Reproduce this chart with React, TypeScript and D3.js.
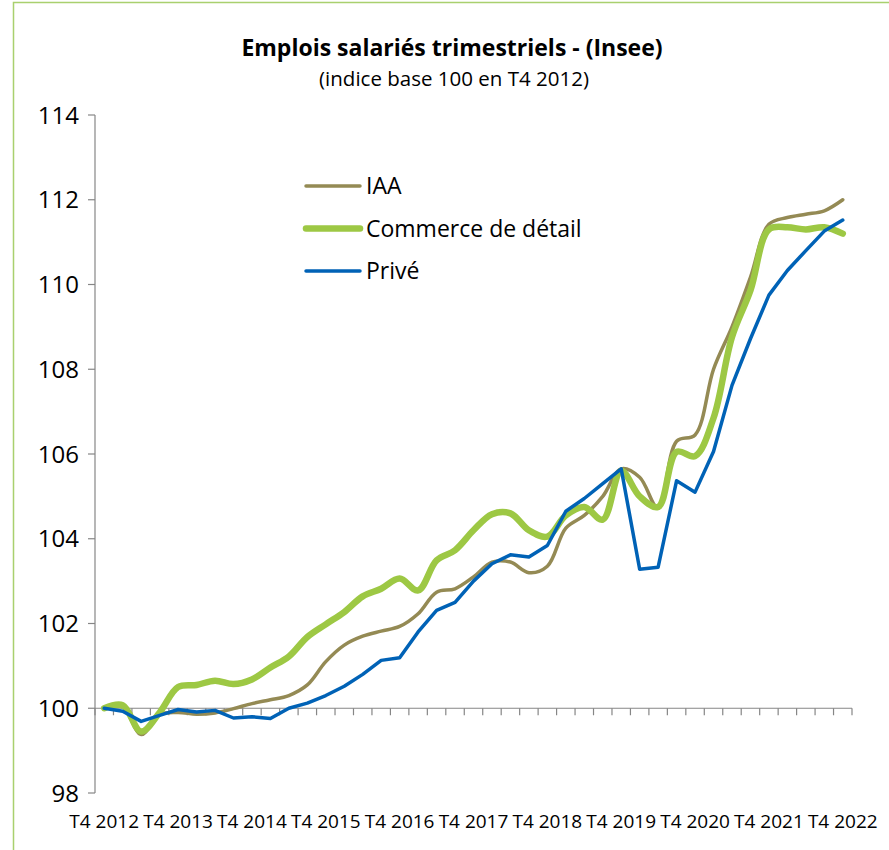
import React from "react";
import * as d3 from "d3";

const years = ["2012","2013","2014","2015","2016","2017","2018","2019","2020","2021","2022"];
const categories: string[] = [];
years.forEach((y, yi) => {
  if (yi === 0) categories.push("T4 " + y);
  else ["T1", "T2", "T3", "T4"].forEach((q) => categories.push(q + " " + y));
});

const iaa = [
  100, 100.03, 99.38, 99.85, 99.9, 99.86, 99.89, 99.99, 100.11, 100.2,
  100.3, 100.55, 101.1, 101.49, 101.7, 101.82, 101.93, 102.23, 102.74, 102.82,
  103.1, 103.45, 103.45, 103.2, 103.35, 104.25, 104.55, 105.0, 105.65, 105.45,
  104.72, 106.3, 106.45, 108.0, 109.0, 110.17, 111.42, 111.58, 111.66, 111.74,
  112.0,
];
const commerce = [
  100, 100.07, 99.45, 99.9, 100.5, 100.55, 100.65, 100.57, 100.68, 100.96,
  101.22, 101.68, 101.98, 102.27, 102.64, 102.82, 103.06, 102.78, 103.49, 103.73,
  104.2, 104.58, 104.6, 104.2, 104.05, 104.55, 104.75, 104.45, 105.6, 105.0,
  104.75, 106.05, 105.95, 106.85, 108.76, 109.86, 111.3, 111.35, 111.3, 111.35,
  111.2,
];
const prive = [
  100, 99.93, 99.69, 99.83, 99.97, 99.91, 99.95, 99.77, 99.8, 99.76,
  100.0, 100.12, 100.3, 100.52, 100.8, 101.13, 101.19, 101.8, 102.31, 102.5,
  103.0, 103.41, 103.62, 103.57, 103.84, 104.65, 104.95, 105.3, 105.65, 103.28,
  103.33, 105.37, 105.1, 106.06, 107.62, 108.72, 109.75, 110.33, 110.8, 111.26,
  111.52,
];
const yTicks = [98, 100, 102, 104, 106, 108, 110, 112, 114];
const xLabels = ["T4 2012","T4 2013","T4 2014","T4 2015","T4 2016","T4 2017","T4 2018","T4 2019","T4 2020","T4 2021","T4 2022"];

const seriesList = [
  { name: "IAA", values: iaa, color: "#948a54", width: 3.5, smooth: true },
  { name: "Commerce de détail", values: commerce, color: "#9dc844", width: 6.5, smooth: true },
  { name: "Privé", values: prive, color: "#0062b6", width: 3.5, smooth: false },
];

const FONT = "'Open Sans', 'Noto Sans', sans-serif";

export default function App() {
  const W = 889, H = 850;
  const x = d3.scaleBand<string>().domain(categories).range([95, 852]);
  const y = d3.scaleLinear().domain([98, 114]).range([793, 115]);
  const cx = (i: number) => (x(categories[i]) as number) + x.bandwidth() / 2;
  const boundaries = d3.range(categories.length + 1).map((k) => 95 + k * x.step());
  const axisColor = "#868686";

  return (
    <svg width={W} height={H} style={{ position: "absolute", left: 0, top: 0, background: "#fff" }} fontFamily={FONT}>
      <rect x={0} y={0} width={W} height={H} fill="#fff" />
      <rect x={13.5} y={2.5} width={W + 20} height={H + 20} fill="none" stroke="#a9d06e" strokeWidth={1.5} />

      <text x={452} y={56} textAnchor="middle" fontSize={23} fontWeight="bold" fill="#000">
        Emplois salariés trimestriels - (Insee)
      </text>
      <text x={454} y={86} textAnchor="middle" fontSize={20.5} fill="#000">
        (indice base 100 en T4 2012)
      </text>

      {/* Y axis */}
      <line x1={95} x2={95} y1={y(114)} y2={y(98)} stroke={axisColor} strokeWidth={1.2} />
      {yTicks.map((t) => (
        <g key={t}>
          <line x1={88} x2={95} y1={y(t)} y2={y(t)} stroke={axisColor} strokeWidth={1.2} />
          <text x={79} y={y(t)} dy="0.36em" textAnchor="end" fontSize={24} fill="#000">
            {t}
          </text>
        </g>
      ))}

      {/* X axis at 100 */}
      <line x1={95} x2={852} y1={y(100)} y2={y(100)} stroke={axisColor} strokeWidth={1.2} />
      {boundaries.map((b, k) => (
        <line key={k} x1={b} x2={b} y1={y(100)} y2={y(100) + 7} stroke={axisColor} strokeWidth={1.2} />
      ))}
      {xLabels.map((lab) => (
        <text key={lab} x={(x(lab) as number) + x.bandwidth() / 2} y={828} textAnchor="middle" fontSize={19} fill="#000">
          {lab}
        </text>
      ))}

      {seriesList.map((s) => {
        const line = d3
          .line<number>()
          .x((_, i) => cx(i))
          .y((v) => y(v))
          .curve(s.smooth ? d3.curveCatmullRom.alpha(0.5) : d3.curveLinear);
        return (
          <path key={s.name} d={line(s.values) || ""} fill="none" stroke={s.color} strokeWidth={s.width} strokeLinejoin="round" strokeLinecap="round" />
        );
      })}

      {seriesList.map((s, i) => {
        const ly = 186 + i * 42.5;
        return (
          <g key={s.name}>
            <line x1={306} x2={360} y1={ly} y2={ly} stroke={s.color} strokeWidth={s.width} strokeLinecap="round" />
            <text x={366} y={ly} dy="0.36em" fontSize={23} fill="#000">
              {s.name}
            </text>
          </g>
        );
      })}
    </svg>
  );
}
